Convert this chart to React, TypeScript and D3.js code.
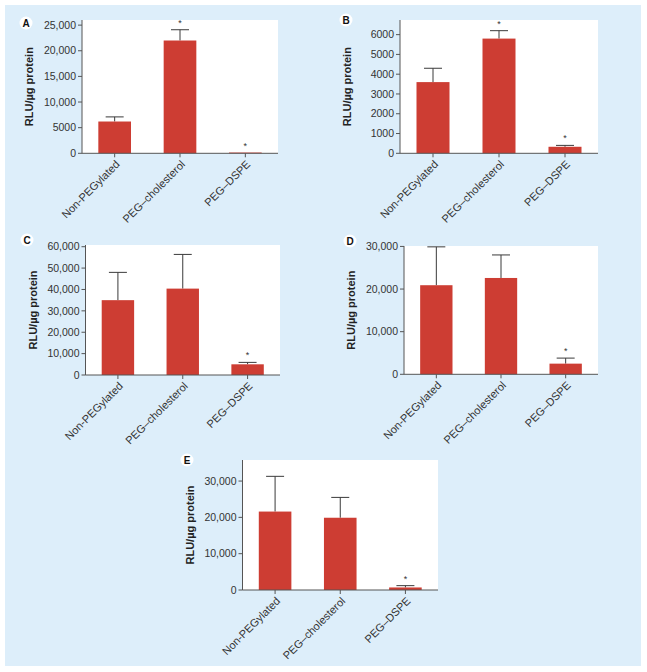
import React from "react";
import * as d3 from "d3";

const categories = ["Non-PEGylated", "PEG\u2013cholesterol", "PEG\u2013DSPE"];

const panelLetters = ["A", "B", "C", "D", "E"];
const meansA = [6200, 22000, 150];
const errA = [7100, 24100, 150];
const starA = [false, true, true];
const meansB = [3600, 5800, 330];
const errB = [4300, 6200, 400];
const starB = [false, true, true];
const meansC = [35000, 40400, 5000];
const errC = [48000, 56400, 5900];
const starC = [false, false, true];
const meansD = [20900, 22600, 2500];
const errD = [29900, 28000, 3800];
const starD = [false, false, true];
const meansE = [21600, 19900, 700];
const errE = [31300, 25500, 1200];
const starE = [false, false, true];

const ticksA = [0, 5000, 10000, 15000, 20000, 25000];
const ticksB = [0, 1000, 2000, 3000, 4000, 5000, 6000];
const ticksC = [0, 10000, 20000, 30000, 40000, 50000, 60000];
const ticksD = [0, 10000, 20000, 30000];
const ticksE = [0, 10000, 20000, 30000];

const yMax = [26000, 6740, 60800, 30100, 35800];

const yLabel = "RLU/\u00b5g protein";

const layouts = [
  { x: 82, top: 20, right: 278, base: 153.3, labelX: 26, labelY: 23 },
  { x: 400, top: 20, right: 598, base: 153.3, labelX: 346, labelY: 20 },
  { x: 85.5, top: 245, right: 280, base: 375, labelX: 27, labelY: 240 },
  { x: 404, top: 246, right: 598, base: 374.3, labelX: 350, labelY: 241 },
  { x: 242.5, top: 460, right: 438, base: 590, labelX: 187, labelY: 460 },
];

const BAR = "#cd3d33";
const BG = "#ddeefa";
const FONT = "Liberation Sans, Arial, sans-serif";

const fmt = (v: number) => (v >= 10000 ? d3.format(",")(v) : String(v));

function Panel({ idx }: { idx: number }) {
  const L = layouts[idx];
  const means = [meansA, meansB, meansC, meansD, meansE][idx];
  const errs = [errA, errB, errC, errD, errE][idx];
  const stars = [starA, starB, starC, starD, starE][idx];
  const ticks = [ticksA, ticksB, ticksC, ticksD, ticksE][idx];
  const x = d3.scaleBand<string>().domain(categories).range([L.x, L.right]).paddingInner(0.5).paddingOuter(0.25);
  const y = d3.scaleLinear().domain([0, yMax[idx]]).range([L.base, L.top]);
  const bw = x.bandwidth();
  return (
    <g>
      <rect x={L.x} y={L.top} width={L.right - L.x} height={L.base - L.top} fill="#fff" />
      {categories.map((c, i) => {
        const cx = (x(c) as number) + bw / 2;
        const top = y(means[i]);
        const et = y(errs[i]);
        return (
          <g key={c}>
            {errs[i] > means[i] && (
              <g stroke="#3a3a3a" strokeWidth={1}>
                <line x1={cx} x2={cx} y1={top} y2={et} />
                <line x1={cx - 9} x2={cx + 9} y1={et} y2={et} />
              </g>
            )}
            <rect x={x(c)} y={top} width={bw} height={L.base - top} fill={BAR} />
            {stars[i] && (
              <text x={cx} y={et - 4} textAnchor="middle" fontSize={9} fontFamily={FONT} fill="#333">*</text>
            )}
          </g>
        );
      })}
      <line x1={L.x} x2={L.x} y1={L.top} y2={L.base} stroke="#555" />
      <line x1={L.x} x2={L.right} y1={L.base} y2={L.base} stroke="#555" />
      {ticks.map((t) => (
        <g key={t}>
          <line x1={L.x - 4} x2={L.x} y1={y(t)} y2={y(t)} stroke="#555" />
          <text x={L.x - 6} y={y(t)} dy="0.35em" textAnchor="end" fontSize={10.5} fontFamily={FONT} fill="#333">
            {fmt(t)}
          </text>
        </g>
      ))}
      {categories.map((c) => {
        const cx = (x(c) as number) + bw / 2;
        return (
          <g key={c}>
            <line x1={cx} x2={cx} y1={L.base} y2={L.base + 4} stroke="#555" />
            <text
              transform={`translate(${cx + 3},${L.base + 9}) rotate(-45)`}
              textAnchor="end"
              dy="0.35em"
              fontSize={11}
              fontFamily={FONT}
              fill="#333"
            >
              {c}
            </text>
          </g>
        );
      })}
      <text
        transform={`translate(${L.x - 49},${(L.top + L.base) / 2}) rotate(-90)`}
        textAnchor="middle"
        fontSize={11}
        fontWeight="bold"
        fontFamily={FONT}
        fill="#222"
      >
        {yLabel}
      </text>
      <circle cx={L.labelX} cy={L.labelY} r={6.5} fill="#fff" />
      <text x={L.labelX} y={L.labelY} dy="0.35em" textAnchor="middle" fontSize={10} fontWeight="bold" fontFamily={FONT} fill="#111">
        {panelLetters[idx]}
      </text>
    </g>
  );
}

export default function App() {
  return (
    <svg width={647} height={672} style={{ position: "absolute", left: 0, top: 0 }}>
      <rect x={0} y={0} width={647} height={672} fill="#fff" />
      <rect x={5} y={5} width={636} height={661} fill={BG} />
      {[0, 1, 2, 3, 4].map((i) => (
        <Panel key={i} idx={i} />
      ))}
    </svg>
  );
}
